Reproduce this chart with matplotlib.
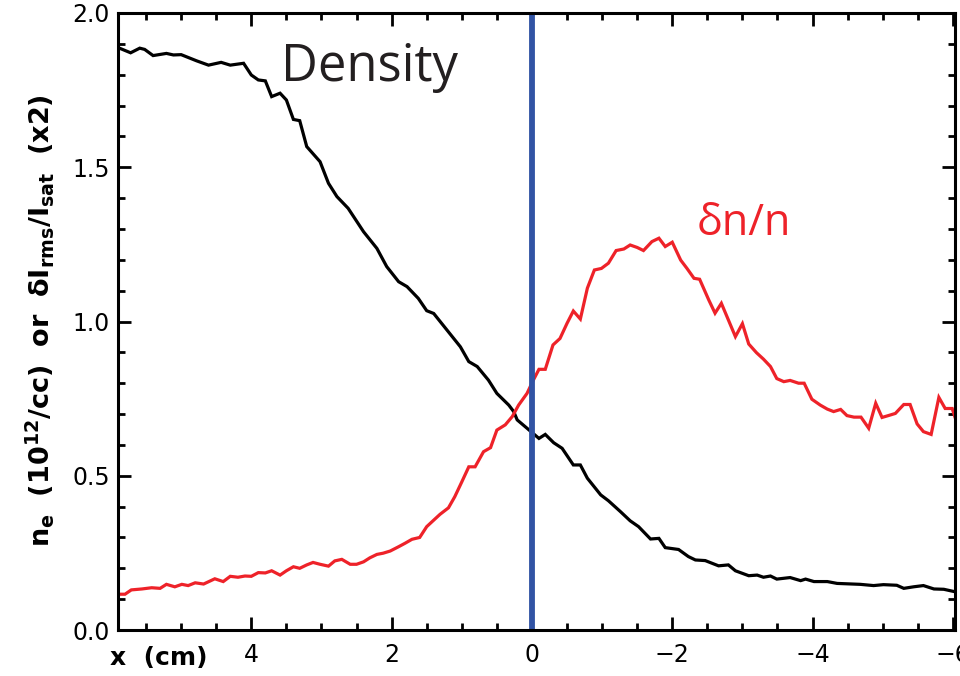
import matplotlib
matplotlib.use("Agg")
import matplotlib.pyplot as plt
from matplotlib.ticker import MultipleLocator, FixedLocator

# ---- data ----
density_x = [5.89, 5.72, 5.59, 5.52, 5.40, 5.21, 5.11, 5.00, 4.78, 4.61, 4.43, 4.30, 4.11, 4.00,
             3.90, 3.80, 3.71, 3.59, 3.50, 3.40, 3.31, 3.21, 3.02, 2.90, 2.78, 2.62, 2.40, 2.21,
             2.07, 1.90, 1.78, 1.62, 1.50, 1.40, 1.21, 1.02, 0.90, 0.78, 0.62, 0.50, 0.33, 0.26,
             0.21, 0.07, -0.10, -0.19, -0.31, -0.43, -0.59, -0.69, -0.79, -0.98, -1.09, -1.26,
             -1.40, -1.52, -1.69, -1.81, -1.90, -2.09, -2.23, -2.33, -2.47, -2.66, -2.80, -2.90,
             -3.09, -3.21, -3.30, -3.40, -3.49, -3.68, -3.83, -3.90, -4.02, -4.21, -4.35, -4.68,
             -4.87, -5.01, -5.20, -5.30, -5.44, -5.58, -5.73, -5.87, -6.03]
density_y = [1.887, 1.871, 1.886, 1.882, 1.862, 1.869, 1.864, 1.865, 1.845, 1.831, 1.840, 1.831,
             1.837, 1.799, 1.783, 1.780, 1.729, 1.740, 1.718, 1.655, 1.651, 1.567, 1.518, 1.448,
             1.405, 1.367, 1.291, 1.237, 1.178, 1.129, 1.113, 1.075, 1.035, 1.026, 0.972, 0.918,
             0.870, 0.854, 0.810, 0.767, 0.729, 0.708, 0.681, 0.654, 0.621, 0.634, 0.607, 0.589,
             0.535, 0.535, 0.492, 0.438, 0.419, 0.384, 0.354, 0.335, 0.295, 0.297, 0.267, 0.261,
             0.238, 0.227, 0.225, 0.208, 0.211, 0.192, 0.176, 0.178, 0.171, 0.175, 0.165, 0.170,
             0.160, 0.165, 0.157, 0.157, 0.151, 0.148, 0.144, 0.147, 0.145, 0.135, 0.140, 0.144,
             0.133, 0.132, 0.124]

fluct_x = [5.90, 5.80, 5.71, 5.56, 5.42, 5.30, 5.21, 5.09, 4.99, 4.90, 4.80, 4.68, 4.52, 4.40,
           4.30, 4.19, 4.09, 4.00, 3.90, 3.80, 3.71, 3.59, 3.50, 3.40, 3.31, 3.21, 3.12, 3.02,
           2.90, 2.81, 2.71, 2.59, 2.50, 2.40, 2.31, 2.21, 2.12, 2.02, 1.90, 1.81, 1.71, 1.60,
           1.50, 1.41, 1.31, 1.19, 1.10, 1.00, 0.90, 0.81, 0.69, 0.59, 0.50, 0.38, 0.28, 0.19,
           0.07, -0.02, -0.10, -0.19, -0.30, -0.40, -0.50, -0.59, -0.69, -0.79, -0.89, -0.99,
           -1.09, -1.20, -1.31, -1.40, -1.50, -1.59, -1.71, -1.81, -1.90, -2.00, -2.12, -2.21,
           -2.31, -2.39, -2.52, -2.61, -2.70, -2.80, -2.90, -3.00, -3.09, -3.20, -3.30, -3.40,
           -3.49, -3.59, -3.68, -3.80, -3.88, -3.99, -4.11, -4.21, -4.30, -4.40, -4.49, -4.59,
           -4.69, -4.80, -4.90, -4.99, -5.08, -5.18, -5.30, -5.39, -5.49, -5.58, -5.69, -5.80,
           -5.89, -5.99, -6.08]
fluct_y = [0.116, 0.116, 0.130, 0.133, 0.137, 0.135, 0.148, 0.140, 0.148, 0.144, 0.153, 0.149,
           0.166, 0.157, 0.174, 0.171, 0.175, 0.174, 0.186, 0.185, 0.192, 0.178, 0.192, 0.205,
           0.200, 0.211, 0.219, 0.213, 0.207, 0.224, 0.229, 0.213, 0.213, 0.221, 0.234, 0.245,
           0.249, 0.256, 0.270, 0.281, 0.294, 0.300, 0.335, 0.354, 0.375, 0.396, 0.432, 0.480,
           0.529, 0.529, 0.578, 0.591, 0.648, 0.665, 0.692, 0.729, 0.767, 0.810, 0.845, 0.845,
           0.924, 0.945, 0.994, 1.034, 1.008, 1.108, 1.167, 1.172, 1.189, 1.230, 1.235, 1.248,
           1.240, 1.230, 1.259, 1.270, 1.243, 1.257, 1.199, 1.172, 1.140, 1.137, 1.070, 1.027,
           1.059, 1.005, 0.951, 0.993, 0.927, 0.899, 0.878, 0.854, 0.815, 0.805, 0.809, 0.800,
           0.800, 0.748, 0.729, 0.716, 0.708, 0.715, 0.695, 0.690, 0.690, 0.654, 0.735, 0.689,
           0.695, 0.702, 0.731, 0.731, 0.668, 0.643, 0.634, 0.754, 0.718, 0.718, 0.655]

separatrix_x = 0.0

x_ticks = [4, 2, 0, -2, -4, -6]
x_tick_labels = ['4', '2', '0', '\u22122', '\u22124', '\u22126']
y_ticks = [0.0, 0.5, 1.0, 1.5, 2.0]
y_tick_labels = ['0.0', '0.5', '1.0', '1.5', '2.0']

# ---- figure ----
W, H = 960, 676
fig = plt.figure(figsize=(W / 100, H / 100), dpi=100)
ax = fig.add_axes([118 / W, 46 / H, (955 - 118) / W, (630 - 13) / H])

ax.plot(density_x, density_y, color='black', lw=2.3, solid_joinstyle='miter')
ax.plot(fluct_x, fluct_y, color='#EE2229', lw=2.3, solid_joinstyle='miter')
ax.axvline(separatrix_x, color='#3153A4', lw=4.2)

ax.set_xlim(5.9, -6.03)
ax.set_ylim(0, 2.0)

ax.xaxis.set_major_locator(FixedLocator(x_ticks))
ax.set_xticklabels(x_tick_labels)
ax.xaxis.set_minor_locator(MultipleLocator(0.5))
ax.yaxis.set_major_locator(FixedLocator(y_ticks))
ax.set_yticklabels(y_tick_labels)
ax.yaxis.set_minor_locator(MultipleLocator(0.1))

ax.tick_params(which='both', direction='in', top=True, right=True, width=2.0, color='black')
ax.tick_params(which='major', length=9.5)
ax.tick_params(which='minor', length=5)
ax.tick_params(axis='x', which='major', pad=9, labelsize=17)
ax.tick_params(axis='y', which='major', pad=6, labelsize=17)
for s in ax.spines.values():
    s.set_linewidth(2.2)

ax.text(0.195, 0.89, 'Density', transform=ax.transAxes, fontsize=36.5,
        color='#231F20', family='Open Sans', ha='left', va='baseline')
ax.text(0.6918, 0.640, '\u03b4n/n', transform=ax.transAxes, fontsize=31,
        color='#EE2229', family='Open Sans', ha='left', va='baseline')

fig.text(40 / W, 1 - 321 / H,
         r'$\mathbf{n_e\ \ (10^{12}/cc)\ \ or\ \ δI_{rms}/I_{sat}\ \ (x2)}$',
         rotation=90, ha='center', va='center', fontsize=19.5)
fig.text(110 / W, 1 - 658 / H, 'x  (cm)', ha='left', va='center', fontsize=18,
         fontweight='bold')

fig.savefig('out.png', dpi=100)
